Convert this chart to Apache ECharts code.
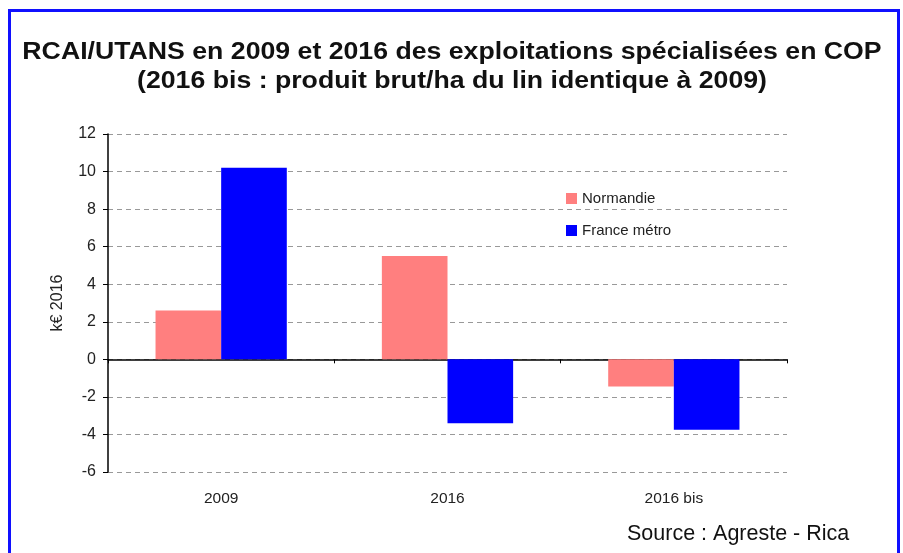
<!DOCTYPE html>
<html>
<head>
<meta charset="utf-8">
<script src="https://cdn.jsdelivr.net/npm/echarts@6/dist/echarts.min.js"></script>
<style>
html,body{margin:0;padding:0;background:#fff;}
#chart{width:903px;height:553px;position:absolute;left:0;top:0;}
#frame{position:absolute;left:8px;top:9px;width:886px;height:560px;border:3px solid #1010ff;pointer-events:none;}
</style>
</head>
<body>
<div id="chart"></div>
<div id="frame"></div>
<script>
const categories = ['2009', '2016', '2016 bis'];
const normandie = [2.6, 5.5, -1.45];
const franceMetro = [10.2, -3.4, -3.75];
const yTicks = { min: -6, max: 12, interval: 2 };
const titleLines = ['RCAI/UTANS en 2009 et 2016 des exploitations spécialisées en COP', '(2016 bis : produit brut/ha du lin identique à 2009)'];
const sourceText = 'Source : Agreste - Rica';

const FONT = 'Liberation Sans, Arial, sans-serif';
const chart = echarts.init(document.getElementById('chart'));
chart.setOption({
  animation: false,
  backgroundColor: '#fff',
  graphic: [
    { type: 'text', x: 452, y: 53, scaleX: 1.135, silent: true,
      style: { text: titleLines[0], x: 0, y: 0, textAlign: 'center', textVerticalAlign: 'middle', fontFamily: FONT, fontSize: 23.5, fontWeight: 'bold', fill: '#111' } },
    { type: 'text', x: 452, y: 82, scaleX: 1.135, silent: true,
      style: { text: titleLines[1], x: 0, y: 0, textAlign: 'center', textVerticalAlign: 'middle', fontFamily: FONT, fontSize: 23.5, fontWeight: 'bold', fill: '#111' } },
    { type: 'text', x: 627, y: 534, silent: true,
      style: { text: sourceText, x: 0, y: 0, textVerticalAlign: 'middle', fontFamily: FONT, fontSize: 21.5, fill: '#111' } }
  ],
  legend: {
    orient: 'vertical', left: 566, top: 191, padding: 0,
    itemWidth: 11, itemHeight: 11, itemGap: 17,
    icon: 'rect',
    textStyle: { fontFamily: FONT, fontSize: 15, lineHeight: 15, color: '#222' },
    data: ['Normandie', 'France métro']
  },
  grid: { left: 108, right: 116, top: 134, bottom: 81 },
  xAxis: [{
    type: 'category', data: categories,
    axisLine: { onZero: true, lineStyle: { color: '#000', width: 1.5 } },
    axisTick: { show: true, length: 4, lineStyle: { color: '#000' } },
    axisLabel: { show: false }
  }, {
    type: 'category', data: categories, position: 'bottom',
    axisLine: { show: false }, axisTick: { show: false },
    axisLabel: { show: true, margin: 19, fontFamily: FONT, fontSize: 15.5, color: '#222' }
  }],
  yAxis: [{
    type: 'value', min: yTicks.min, max: yTicks.max, interval: yTicks.interval,
    name: 'k€ 2016', nameLocation: 'middle', nameGap: 42, nameRotate: 90,
    nameTextStyle: { fontFamily: FONT, fontSize: 16, color: '#222' },
    axisLine: { show: true, lineStyle: { color: '#000', width: 1.5 } },
    axisTick: { show: true, length: 5, lineStyle: { color: '#000' } },
    axisLabel: { fontFamily: FONT, fontSize: 16, color: '#222', margin: 12 },
    splitLine: { show: true, lineStyle: { color: '#999', type: [5, 4], width: 1.2 } }
  }],
  series: [
    { name: 'Normandie', type: 'bar', data: normandie, barGap: '0%', barCategoryGap: '42%', itemStyle: { color: '#ff7f7f' } },
    { name: 'France métro', type: 'bar', data: franceMetro, itemStyle: { color: '#0000ff' } }
  ]
});
</script>
</body>
</html>
